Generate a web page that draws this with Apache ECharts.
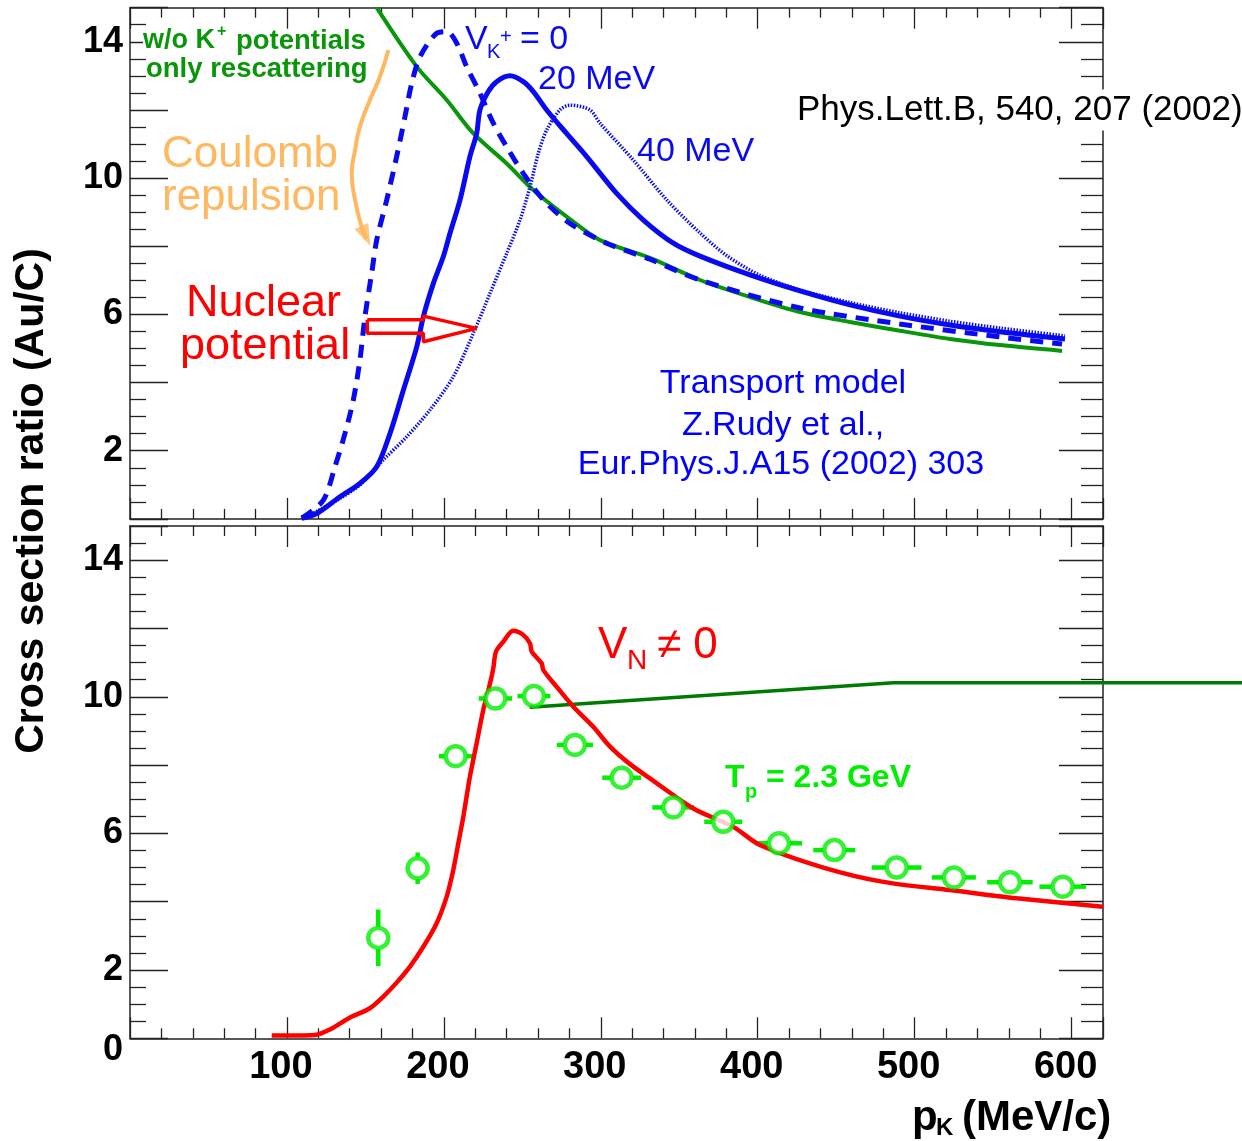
<!DOCTYPE html>
<html><head><meta charset="utf-8">
<script src="https://cdn.jsdelivr.net/npm/echarts/dist/echarts.min.js"></script>
<style>html,body{margin:0;padding:0;background:#fff}#c{width:1242px;height:1141px}</style>
</head><body><div id="c"></div>
<script>
// ---------------- DATA ----------------
// Top panel: transport model curves [p_K (MeV/c), ratio Au/C]
const noPotential = [[157.2,15.0],[182.7,13.27],[201.8,12.29],[218.8,11.31],[240,10.43],[257,9.65],[278.2,8.87],[299.5,8.18],[331.3,7.66],[363.2,7.01],[395.1,6.51],[426.9,6.07],[458.8,5.78],[490.6,5.52],[522.5,5.28],[554.4,5.10],[593.9,4.93]];
const vk0 = [[109.4,0.02],[123.2,0.55],[130.6,1.53],[137,2.51],[142.3,3.49],[146.5,4.66],[149.7,5.93],[154,7.21],[157.2,8.18],[163.6,9.36],[169.9,10.63],[175.2,11.8],[179.5,12.78],[184.8,13.56],[195.4,14.25],[201.8,14.30],[208.2,13.96],[214.5,13.27],[223,12.49],[231.5,11.61],[240,10.92],[250.6,10.14],[263.4,9.36],[280.4,8.67],[303.7,8.09],[331.3,7.62],[363.2,7.01],[426.9,6.19],[490.6,5.72],[554.4,5.34],[593.9,5.13]];
const vk20 = [[109.4,0.02],[119,0.16],[133.8,0.65],[146.5,1.04],[157.2,1.53],[165.7,2.51],[174.2,3.78],[182.7,5.05],[186.9,5.93],[193.3,6.91],[199.6,7.69],[203.9,8.38],[210.3,9.36],[216.6,10.63],[220.9,11.31],[223,12.0],[228.3,12.54],[233.6,12.83],[242.1,13.0],[250.6,12.83],[257,12.54],[265.5,12.0],[278.2,11.31],[291,10.63],[310.1,9.55],[327.1,8.77],[346.2,8.09],[363.2,7.71],[395.1,7.16],[426.9,6.69],[458.8,6.28],[490.6,5.95],[522.5,5.69],[554.4,5.49],[595.8,5.28]];
const vk40 = [[112,0.05],[133.8,0.6],[146.5,1.0],[161.4,1.73],[176.3,2.41],[191.2,3.2],[206,4.17],[218.8,5.45],[229.4,6.62],[240,7.79],[248.5,8.77],[254.9,9.75],[260.2,10.73],[265.5,11.41],[274,12.0],[280.4,12.14],[293.1,12.0],[299.5,11.61],[320.7,10.53],[342,9.36],[363.2,8.39],[380.4,7.72],[401.4,7.15],[426.9,6.72],[458.8,6.35],[490.6,6.05],[522.5,5.80],[554.4,5.60],[595.8,5.37]];
// annotation arrows (data coordinates of the top panel)
const coulombArrow = [[164.6,13.76],[159.3,12.98],[152.9,12.29],[146.5,11.51],[143.4,10.82],[141.3,10.14],[143.4,9.36],[147.6,8.57],[150.6,8.22]];
const coulombHead = [[150.3,8.30]];
const nuclearArrow = [[151.2,5.84],[186.9,5.84],[186.9,5.95],[220.9,5.59],[186.9,5.20],[186.9,5.45],[151.2,5.45],[151.2,5.84]];
// Bottom panel
const vnCurve = [[90.3,0.08],[117.9,0.1],[127.4,0.26],[140.2,0.61],[152.9,0.88],[161.4,1.22],[169.9,1.63],[178.4,2.1],[186.9,2.68],[195.4,3.37],[201.8,4.15],[206,4.93],[209.2,5.71],[212.4,6.49],[216.6,7.66],[220.9,8.64],[225.1,9.61],[229.4,10.39],[231.5,10.83],[233.2,11.32],[237.9,11.61],[244.2,11.93],[250.6,11.81],[254.9,11.56],[256,11.32],[262.3,10.98],[263.4,10.78],[271.9,10.29],[282.5,9.71],[295.2,9.12],[305.9,8.54],[318,8.05],[331.3,7.61],[359,6.73],[384.4,6.19],[401.4,5.66],[441.8,5.0],[480,4.58],[522.5,4.34],[565,4.10],[620,3.85]];
const strayLine = [[254.7,9.69],[486.4,10.41],[708.6,10.41]];
const dataX    = [158.2,183.3,207.5,232.8,257.4,283.5,313.3,346.2,378,413.5,448.8,488.5,525,560.7,594.3];
const dataY    = [2.94,4.98,8.26,9.95,10.02,8.59,7.63,6.76,6.34,5.71,5.51,5.0,4.71,4.57,4.44];
const dataXerr = [0,0,10.6,10.6,10.5,11.5,12.4,13.4,12.1,14.7,13.4,15.9,14,14.5,14.8];
const dataYerr = [0.83,0.46,0,0,0,0,0,0,0,0,0,0,0,0,0];
const xTickLabels = [100,200,300,400,500,600];
const yTickLabelsTop = [2,6,10,14];
const yTickLabelsBot = [0,2,6,10,14];

// ---------------- STYLE ----------------
const AX = '#222';
const FONT = '"Liberation Sans", Arial, Helvetica, sans-serif';
const BLUE = '#0a0af0', GREEN_T = '#0a960a', GREEN_PT = '#00ee00', RED = '#ff0000', ORANGE = '#ffb860';

function xAx(grid, pos, showLabel){
  return {type:'value', gridIndex:grid, position:pos, min:0, max:620, interval:100,
    axisLine:{show:true, onZero:false, lineStyle:{color:AX, width:1.5}},
    axisTick:{show:true, inside:true, length:21, lineStyle:{color:AX, width:1.3}},
    minorTick:{show:true, splitNumber:5, length:10, lineStyle:{color:AX, width:1.3}},
    splitLine:{show:false}, minorSplitLine:{show:false},
    axisLabel:{show:showLabel, margin:10, color:'#000',
      formatter:v => xTickLabels.includes(v) ? '{a|'+v+'}' : '',
      rich:{a:{fontFamily:FONT, fontWeight:'bold', fontSize:38, color:'#000', padding:[0,12,0,0]}}}
  };
}
function yAx(grid, pos, labels){
  const left = pos === 'left';
  return {type:'value', gridIndex:grid, position:pos, min:0, max:15, interval:2,
    axisLine:{show:true, onZero:false, lineStyle:{color:AX, width:1.5}},
    axisTick:{show:true, inside:true, length:left?38:44, lineStyle:{color:AX, width:1.3}},
    minorTick:{show:true, splitNumber:4, length:left?16:22, lineStyle:{color:AX, width:1.3}},
    splitLine:{show:false}, minorSplitLine:{show:false},
    axisLabel:{show:!!labels, margin:7,
      formatter:v => (labels && labels.includes(v)) ? (v===0 ? '{z|0}' : '{a|'+v+'}') : '',
      rich:{a:{fontFamily:FONT, fontWeight:'bold', fontSize:36, color:'#000'},
            z:{fontFamily:FONT, fontWeight:'bold', fontSize:36, color:'#000', padding:[24,0,0,0]}}}
  };
}

function T(x, y, text, size, color, o){
  o = o || {};
  return {type:'text', x:x, y:y, z:100, rotation:o.rot||0,
    style:Object.assign({text:text, fill:color,
      font:(o.bold?'bold ':'')+size+'px '+FONT,
      textAlign:o.align||'left', textVerticalAlign:'middle', verticalAlign:'middle'}, o.style||{})};
}

const option = {
  animation:false,
  backgroundColor:'#fff',
  grid:[
    {left:130, top:7.7, width:973, height:511.2},
    {left:130, top:526, width:973, height:512.3}
  ],
  xAxis:[xAx(0,'bottom',false), xAx(0,'top',false), xAx(1,'bottom',true), xAx(1,'top',false)],
  yAxis:[yAx(0,'left',yTickLabelsTop), yAx(0,'right',null), yAx(1,'left',yTickLabelsBot), yAx(1,'right',null)],
  series:[
    {type:'line', xAxisIndex:0, yAxisIndex:0, data:noPotential, showSymbol:false, smooth:0.3,
      lineStyle:{color:GREEN_T, width:4}},
    {type:'line', xAxisIndex:0, yAxisIndex:0, data:vk0, showSymbol:false, smooth:0.3,
      lineStyle:{color:BLUE, width:5, type:[13,9]}},
    {type:'line', xAxisIndex:0, yAxisIndex:0, data:vk20, showSymbol:false, smooth:0.3,
      lineStyle:{color:BLUE, width:5}},
    {type:'line', xAxisIndex:0, yAxisIndex:0, data:vk40, showSymbol:false, smooth:0.3,
      lineStyle:{color:BLUE, width:3.5, type:[1.5,1.5]}},
    {type:'line', xAxisIndex:0, yAxisIndex:0, data:coulombArrow, showSymbol:false, smooth:0.5,
      lineStyle:{color:ORANGE, width:4}},
    {type:'scatter', xAxisIndex:0, yAxisIndex:0, data:coulombHead, symbol:'triangle',
      symbolSize:[15,22], symbolRotate:204, itemStyle:{color:ORANGE}},
    {type:'line', xAxisIndex:0, yAxisIndex:0, data:nuclearArrow, showSymbol:false, smooth:false,
      lineStyle:{color:RED, width:3.5}},
    {type:'line', xAxisIndex:2, yAxisIndex:2, data:vnCurve, showSymbol:false, smooth:0.3,
      lineStyle:{color:RED, width:4.5}},
    {type:'custom', xAxisIndex:2, yAxisIndex:2, clip:false, data:[strayLine[0]],
      renderItem:function(params, api){
        const pts = strayLine.map(p => api.coord(p));
        return {type:'polyline', shape:{points:pts}, style:{stroke:'#007a00', lineWidth:3.5, fill:null}};
      }},
    {type:'custom', xAxisIndex:2, yAxisIndex:2,
      data:dataX.map((x,i)=>[x, dataY[i], dataXerr[i], dataYerr[i]]),
      renderItem:function(params, api){
        const x=api.value(0), y=api.value(1), ex=api.value(2), ey=api.value(3);
        const c=api.coord([x,y]); const r=11;
        const st={stroke:GREEN_PT, lineWidth:4.5};
        const ch=[];
        if(ex>0){
          const l=api.coord([x-ex,y])[0], rr=api.coord([x+ex,y])[0];
          ch.push({type:'line', shape:{x1:l,y1:c[1],x2:c[0]-r,y2:c[1]}, style:st});
          ch.push({type:'line', shape:{x1:c[0]+r,y1:c[1],x2:rr,y2:c[1]}, style:st});
        }
        if(ey>0){
          const t=api.coord([x,y+ey])[1], b=api.coord([x,y-ey])[1];
          ch.push({type:'line', shape:{x1:c[0],y1:t,x2:c[0],y2:c[1]-r}, style:st});
          ch.push({type:'line', shape:{x1:c[0],y1:c[1]+r,x2:c[0],y2:b}, style:st});
        }
        return {type:'group', children:ch};
      }},
    {type:'scatter', xAxisIndex:2, yAxisIndex:2, data:dataX.map((x,i)=>[x,dataY[i]]),
      symbol:'circle', symbolSize:20, z:5,
      itemStyle:{color:'#fff', borderColor:GREEN_PT, borderWidth:4.5}}
  ],
  graphic:[
    // top panel annotations
    T(143, 41, 'w/o K', 27, GREEN_T, {bold:true, style:{backgroundColor:'#fff'}}),
    T(217, 32, '+', 16, GREEN_T, {bold:true}),
    T(236, 41, 'potentials', 27.5, GREEN_T, {bold:true}),
    T(146, 69, 'only rescattering', 27.5, GREEN_T, {bold:true}),
    T(465, 40, 'V', 34, BLUE),
    T(487, 52, 'K', 20, BLUE),
    T(500, 37, '+', 20, BLUE),
    T(520, 40, '= 0', 34, BLUE),
    T(538, 80, '20 MeV', 34, BLUE),
    T(637, 152, '40 MeV', 34, BLUE),
    T(797, 110, 'Phys.Lett.B, 540, 207 (2002)', 35, '#000', {style:{backgroundColor:'#fff', padding:[3,0,3,0]}}),
    T(162, 155, 'Coulomb', 44, ORANGE),
    T(162, 198, 'repulsion', 44, ORANGE),
    T(186, 304, 'Nuclear', 45, RED),
    T(180, 347, 'potential', 45, RED),
    T(783, 384, 'Transport model', 34, '#0000ff', {align:'center'}),
    T(783, 426, 'Z.Rudy et al.,', 34, '#0000ff', {align:'center'}),
    T(781, 465, 'Eur.Phys.J.A15 (2002) 303', 34, '#0000ff', {align:'center'}),
    // bottom panel annotations
    T(598, 646, 'V', 44, RED),
    T(627, 661, 'N', 28, RED),
    T(657, 646, '\u2260 0', 44, RED),
    T(725, 778, 'T', 32, GREEN_PT, {bold:true}),
    T(745, 792, 'p', 20, GREEN_PT, {bold:true}),
    T(766, 778, '= 2.3 GeV', 32, GREEN_PT, {bold:true}),
    // axis titles
    T(32, 501, 'Cross section ratio (Au/C)', 41, '#000', {bold:true, align:'center', rot:Math.PI/2}),
    T(912, 1118, 'p', 42, '#000', {bold:true}),
    T(936, 1128, 'K', 24, '#000', {bold:true}),
    T(962, 1118, '(MeV/c)', 42, '#000', {bold:true})
  ]
};
const chart = echarts.init(document.getElementById('c'), null, {renderer:'canvas'});
chart.setOption(option);
</script></body></html>
